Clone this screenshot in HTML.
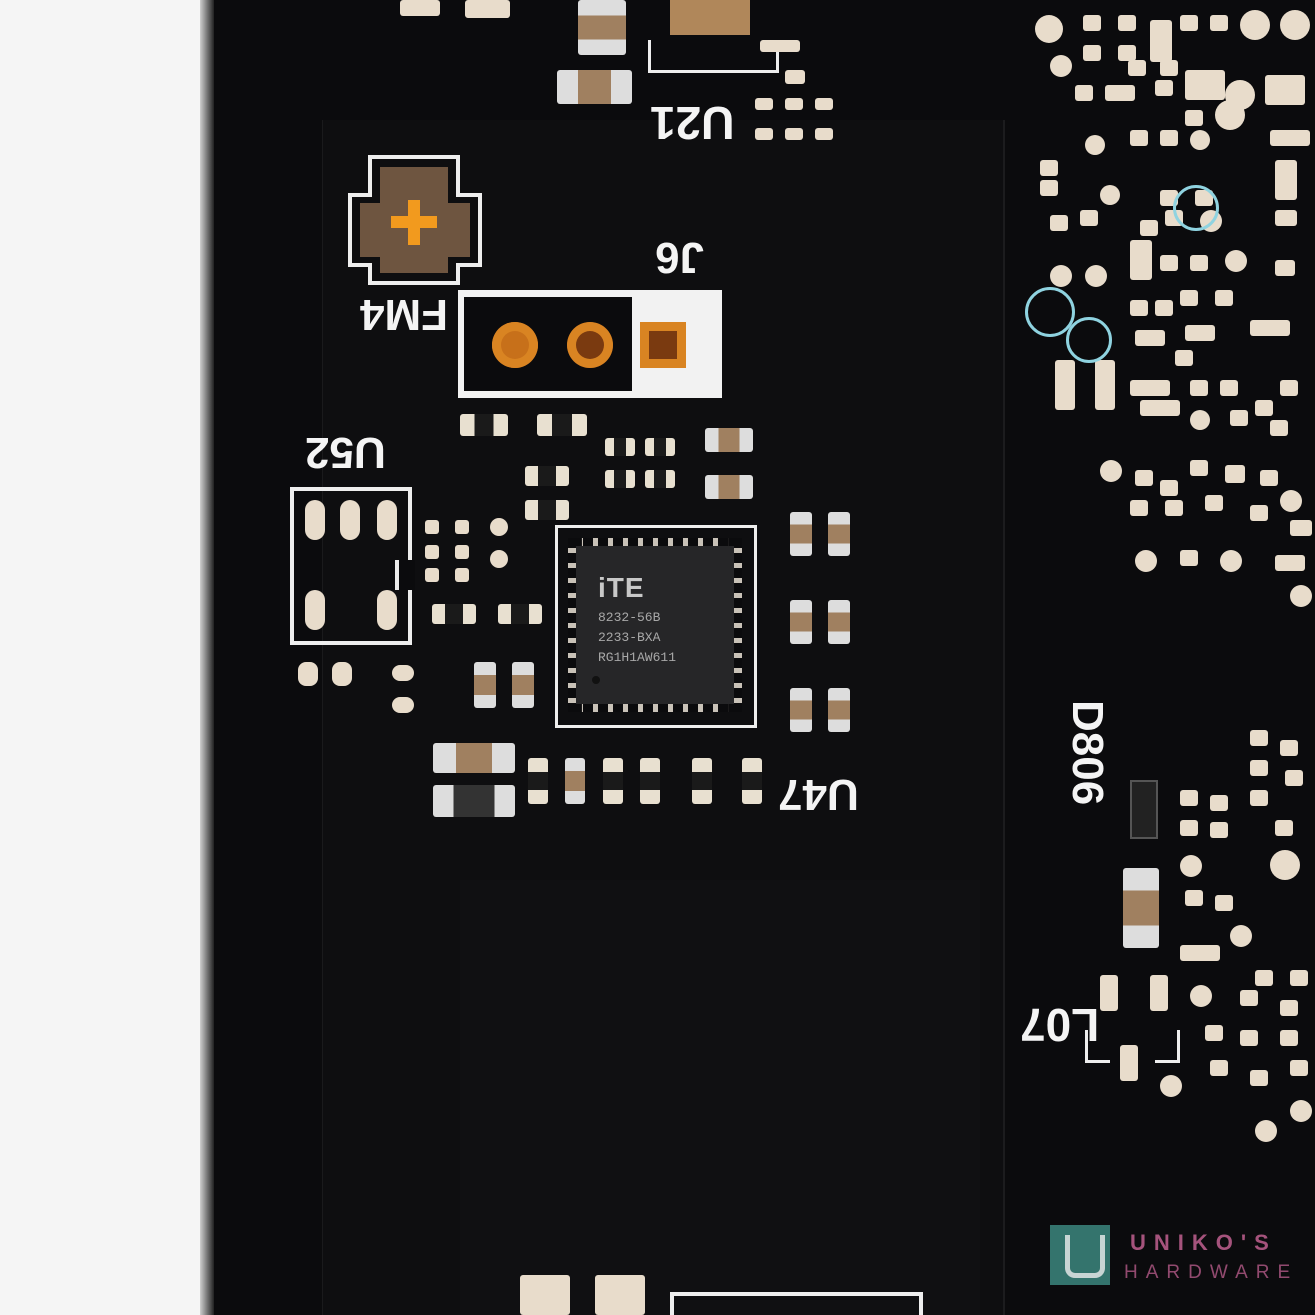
<!DOCTYPE html>
<html><head><meta charset="utf-8"><style>
html,body{margin:0;padding:0;width:1315px;height:1315px;overflow:hidden}
body{position:relative;background:#0b0b0d;font-family:"Liberation Sans",sans-serif}
.a{position:absolute}
.p{position:absolute;background:#e8dccb;border-radius:3px}
.c{position:absolute;background:linear-gradient(90deg,#ddd 0 28%,#a08060 28% 72%,#ddd 72%);border-radius:3px}
.cv{position:absolute;background:linear-gradient(180deg,#ddd 0 28%,#a08060 28% 72%,#ddd 72%);border-radius:3px}
.r{position:absolute;background:linear-gradient(90deg,#e8e0d0 0 30%,#1a1a1a 30% 70%,#e8e0d0 70%);border-radius:3px}
.rv{position:absolute;background:linear-gradient(180deg,#e8e0d0 0 30%,#1a1a1a 30% 70%,#e8e0d0 70%);border-radius:3px}
.t{position:absolute;color:#f4f4f4;font-weight:bold;transform:rotate(180deg);transform-origin:center;line-height:1}
.ring{position:absolute;border:3px solid #8fd3e0;border-radius:50%}
</style></head><body>
<div class="a" style="left:0;top:0;width:200px;height:1315px;background:#f5f5f5"></div>
<div class="a" style="left:200px;top:0;width:14px;height:1315px;background:linear-gradient(90deg,#cfcfcf,#222)"></div>
<div class="a" style="left:322px;top:120px;width:680px;height:1195px;background:#0e0e10;border-left:1px solid #1a1a1c;border-right:2px solid #1c1c1e"></div>
<div class="a" style="left:460px;top:880px;width:520px;height:435px;background:#101012"></div>

<div class="p" style="left:400px;top:0;width:40px;height:16px"></div>
<div class="p" style="left:465px;top:0;width:45px;height:18px"></div>
<div class="cv" style="left:578px;top:0;width:48px;height:55px"></div>
<div class="c" style="left:557px;top:70px;width:75px;height:34px"></div>
<div class="a" style="left:670px;top:0;width:80px;height:35px;background:#b0875a"></div>
<div class="a" style="left:648px;top:40px;width:125px;height:30px;border:3px solid #eee;border-top:none"></div>
<div class="t" style="left:650px;top:100px;font-size:46px">U21</div>
<div class="p" style="left:760px;top:40px;width:40px;height:12px"></div>
<div class="p" style="left:785px;top:70px;width:20px;height:14px"></div>
<div class="p" style="left:755px;top:98px;width:18px;height:12px"></div>
<div class="p" style="left:785px;top:98px;width:18px;height:12px"></div>
<div class="p" style="left:815px;top:98px;width:18px;height:12px"></div>
<div class="p" style="left:755px;top:128px;width:18px;height:12px"></div>
<div class="p" style="left:785px;top:128px;width:18px;height:12px"></div>
<div class="p" style="left:815px;top:128px;width:18px;height:12px"></div>

<svg class="a" style="left:348px;top:155px" width="136" height="132">
<path d="M22 2H110V40H132V110H110V128H22V110H2V40H22Z" fill="none" stroke="#eee" stroke-width="4"/>
<path d="M32 12H100V48H122V102H100V118H32V102H12V48H32Z" fill="#6e5540"/>
<rect x="60" y="45" width="12" height="45" fill="#f29a1e"/>
<rect x="43" y="61" width="46" height="12" fill="#f29a1e"/>
</svg>
<div class="t" style="left:360px;top:292px;font-size:44px">FM4</div>
<div class="t" style="left:655px;top:235px;font-size:44px">J6</div>
<div class="a" style="left:458px;top:290px;width:264px;height:108px;background:#f2f2f2"></div>
<div class="a" style="left:464px;top:297px;width:168px;height:94px;background:#0b0b0d"></div>
<div class="a" style="left:492px;top:322px;width:46px;height:46px;border-radius:50%;background:#c7701a;box-shadow:inset 0 0 0 9px #d98422"></div>
<div class="a" style="left:567px;top:322px;width:46px;height:46px;border-radius:50%;background:#7a3a10;box-shadow:inset 0 0 0 9px #d98422"></div>
<div class="a" style="left:640px;top:322px;width:46px;height:46px;background:#7a3a10;box-shadow:inset 0 0 0 9px #d98422"></div>

<div class="r" style="left:460px;top:414px;width:48px;height:22px"></div>
<div class="r" style="left:537px;top:414px;width:50px;height:22px"></div>
<div class="c" style="left:705px;top:428px;width:48px;height:24px"></div>
<div class="c" style="left:705px;top:475px;width:48px;height:24px"></div>
<div class="r" style="left:605px;top:438px;width:30px;height:18px"></div>
<div class="r" style="left:645px;top:438px;width:30px;height:18px"></div>
<div class="r" style="left:605px;top:470px;width:30px;height:18px"></div>
<div class="r" style="left:645px;top:470px;width:30px;height:18px"></div>
<div class="r" style="left:525px;top:466px;width:44px;height:20px"></div>
<div class="r" style="left:525px;top:500px;width:44px;height:20px"></div>

<div class="t" style="left:305px;top:430px;font-size:44px">U52</div>
<div class="a" style="left:290px;top:487px;width:114px;height:150px;border:4px solid #eee"></div>
<div class="a" style="left:395px;top:560px;width:16px;height:30px;background:#0b0b0d;border-left:4px solid #eee"></div>
<div class="p" style="left:305px;top:500px;width:20px;height:40px;border-radius:10px"></div>
<div class="p" style="left:340px;top:500px;width:20px;height:40px;border-radius:10px"></div>
<div class="p" style="left:377px;top:500px;width:20px;height:40px;border-radius:10px"></div>
<div class="p" style="left:305px;top:590px;width:20px;height:40px;border-radius:10px"></div>
<div class="p" style="left:377px;top:590px;width:20px;height:40px;border-radius:10px"></div>
<div class="p" style="left:298px;top:662px;width:20px;height:24px;border-radius:8px"></div>
<div class="p" style="left:332px;top:662px;width:20px;height:24px;border-radius:8px"></div>
<div class="p" style="left:392px;top:665px;width:22px;height:16px;border-radius:8px"></div>
<div class="p" style="left:392px;top:697px;width:22px;height:16px;border-radius:8px"></div>
<div class="p" style="left:425px;top:520px;width:14px;height:14px"></div>
<div class="p" style="left:455px;top:520px;width:14px;height:14px"></div>
<div class="p" style="left:490px;top:518px;width:18px;height:18px;border-radius:9px"></div>
<div class="p" style="left:425px;top:545px;width:14px;height:14px"></div>
<div class="p" style="left:455px;top:545px;width:14px;height:14px"></div>
<div class="p" style="left:425px;top:568px;width:14px;height:14px"></div>
<div class="p" style="left:455px;top:568px;width:14px;height:14px"></div>
<div class="p" style="left:490px;top:550px;width:18px;height:18px;border-radius:9px"></div>
<div class="r" style="left:432px;top:604px;width:44px;height:20px"></div>
<div class="r" style="left:498px;top:604px;width:44px;height:20px"></div>
<div class="cv" style="left:474px;top:662px;width:22px;height:46px"></div>
<div class="cv" style="left:512px;top:662px;width:22px;height:46px"></div>

<div class="a" style="left:555px;top:525px;width:196px;height:197px;border:3px solid #eee"></div>
<div class="a" style="left:568px;top:538px;width:174px;height:174px;background:repeating-linear-gradient(90deg,#0b0b0d 0 10px,#c9c2b8 10px 15px)"></div>
<div class="a" style="left:568px;top:538px;width:174px;height:174px;background:repeating-linear-gradient(180deg,#0b0b0d 0 10px,#c9c2b8 10px 15px);clip-path:polygon(0 0,8% 0,8% 100%,0 100%,0 0,92% 0,100% 0,100% 100%,92% 100%,92% 0)"></div>
<div class="a" style="left:576px;top:546px;width:158px;height:158px;background:#262628"></div>
<div class="a" style="left:598px;top:572px;color:#c8c8c8;font-weight:bold;font-size:28px;letter-spacing:1px">iTE</div>
<div class="a" style="left:598px;top:608px;color:#a8a8a8;font-family:'Liberation Mono',monospace;font-size:13px;line-height:20px">8232-56B<br>2233-BXA<br>RG1H1AW611</div>
<div class="a" style="left:592px;top:676px;width:8px;height:8px;border-radius:50%;background:#111"></div>

<div class="cv" style="left:790px;top:512px;width:22px;height:44px"></div>
<div class="cv" style="left:828px;top:512px;width:22px;height:44px"></div>
<div class="cv" style="left:790px;top:600px;width:22px;height:44px"></div>
<div class="cv" style="left:828px;top:600px;width:22px;height:44px"></div>
<div class="cv" style="left:790px;top:688px;width:22px;height:44px"></div>
<div class="cv" style="left:828px;top:688px;width:22px;height:44px"></div>
<div class="t" style="left:778px;top:772px;font-size:44px">U47</div>

<div class="c" style="left:433px;top:743px;width:82px;height:30px"></div>
<div class="a" style="left:433px;top:785px;width:82px;height:32px;background:linear-gradient(90deg,#ddd 0 25%,#333 25% 75%,#ddd 75%);border-radius:3px"></div>
<div class="rv" style="left:528px;top:758px;width:20px;height:46px"></div>
<div class="cv" style="left:565px;top:758px;width:20px;height:46px"></div>
<div class="rv" style="left:603px;top:758px;width:20px;height:46px"></div>
<div class="rv" style="left:640px;top:758px;width:20px;height:46px"></div>
<div class="rv" style="left:692px;top:758px;width:20px;height:46px"></div>
<div class="rv" style="left:742px;top:758px;width:20px;height:46px"></div>

<div id="rt"></div>
<div class="ring" style="left:1173px;top:185px;width:40px;height:40px"></div>
<div class="ring" style="left:1025px;top:287px;width:44px;height:44px"></div>
<div class="ring" style="left:1066px;top:317px;width:40px;height:40px"></div>

<div class="a" style="left:1112px;top:700px;color:#f4f4f4;font-weight:bold;font-size:44px;transform:rotate(90deg);transform-origin:0 0">D806</div>
<div class="t" style="left:1020px;top:1002px;font-size:46px">L07</div>
<div class="a" style="left:1085px;top:1030px;width:22px;height:30px;border-left:3px solid #eee;border-bottom:3px solid #eee"></div>
<div class="a" style="left:1155px;top:1030px;width:22px;height:30px;border-right:3px solid #eee;border-bottom:3px solid #eee"></div>
<div class="cv" style="left:1123px;top:868px;width:36px;height:80px"></div>
<div class="a" style="left:1130px;top:780px;width:24px;height:55px;background:#222;border:2px solid #555"></div>

<div class="p" style="left:520px;top:1275px;width:50px;height:40px"></div>
<div class="p" style="left:595px;top:1275px;width:50px;height:40px"></div>
<div class="a" style="left:670px;top:1292px;width:245px;height:19px;border:4px solid #eee;border-bottom:none"></div>

<div class="a" style="left:1050px;top:1225px;width:60px;height:60px;background:#3f8f86;opacity:.8"></div>
<div class="a" style="left:1065px;top:1235px;width:30px;height:38px;border:5px solid #eee;border-top:none;border-radius:0 0 10px 10px;opacity:.8"></div>
<div class="a" style="left:1130px;top:1230px;color:#c06090;font-size:22px;letter-spacing:8px;font-weight:bold;opacity:.85">UNIKO'S</div>
<div class="a" style="left:1124px;top:1262px;color:#c06090;font-size:19px;letter-spacing:8px;opacity:.75">HARDWARE</div>

<script>
var pts=[[1035,15,28,28],[1083,15,18,16],[1118,15,18,16],[1150,20,22,42],[1180,15,18,16],[1210,15,18,16],[1240,10,30,30],[1280,10,30,30],
[1050,55,22,22],[1083,45,18,16],[1118,45,18,16],[1128,60,18,16],[1160,60,18,16],[1185,70,40,30],[1225,80,30,30],[1265,75,40,30],
[1075,85,18,16],[1105,85,30,16],[1155,80,18,16],[1185,110,18,16],[1215,100,30,30],[1270,130,40,16],[1085,135,20,20],[1130,130,18,16],
[1160,130,18,16],[1190,130,20,20],[1040,160,18,16],[1040,180,18,16],[1100,185,20,20],[1160,190,18,16],[1195,190,18,16],[1275,160,22,40],
[1050,215,18,16],[1080,210,18,16],[1140,220,18,16],[1165,210,18,16],[1200,210,22,22],[1275,210,22,16],[1130,240,22,40],
[1050,265,22,22],[1085,265,22,22],[1160,255,18,16],[1190,255,18,16],[1225,250,22,22],[1275,260,20,16],[1180,290,18,16],[1215,290,18,16],
[1130,300,18,16],[1155,300,18,16],[1185,325,30,16],[1250,320,40,16],[1055,360,20,50],[1095,360,20,50],[1135,330,30,16],[1175,350,18,16],
[1130,380,40,16],[1140,400,40,16],[1190,380,18,16],[1220,380,18,16],[1255,400,18,16],[1280,380,18,16],[1190,410,20,20],[1230,410,18,16],
[1270,420,18,16],[1100,460,22,22],[1135,470,18,16],[1160,480,18,16],[1190,460,18,16],[1225,465,20,18],[1260,470,18,16],[1280,490,22,22],
[1130,500,18,16],[1165,500,18,16],[1205,495,18,16],[1250,505,18,16],[1290,520,22,16],[1135,550,22,22],[1180,550,18,16],[1220,550,22,22],
[1275,555,30,16],[1290,585,22,22],[1250,730,18,16],[1280,740,18,16],[1250,760,18,16],[1285,770,18,16],[1180,790,18,16],[1210,795,18,16],
[1250,790,18,16],[1180,820,18,16],[1210,822,18,16],[1275,820,18,16],[1180,855,22,22],[1270,850,30,30],[1185,890,18,16],[1215,895,18,16],
[1180,945,40,16],[1230,925,22,22],[1255,970,18,16],[1290,970,18,16],[1100,975,18,36],[1150,975,18,36],[1190,985,22,22],[1240,990,18,16],
[1280,1000,18,16],[1205,1025,18,16],[1240,1030,18,16],[1280,1030,18,16],[1120,1045,18,36],[1160,1075,22,22],[1210,1060,18,16],
[1250,1070,18,16],[1290,1060,18,16],[1255,1120,22,22],[1290,1100,22,22]];
var h='';pts.forEach(function(p){h+='<div class="p" style="left:'+p[0]+'px;top:'+p[1]+'px;width:'+p[2]+'px;height:'+p[3]+'px'+(p[2]==p[3]&&p[2]>19?';border-radius:50%':'')+'"></div>';});
document.getElementById('rt').innerHTML=h;
</script>
</body></html>
